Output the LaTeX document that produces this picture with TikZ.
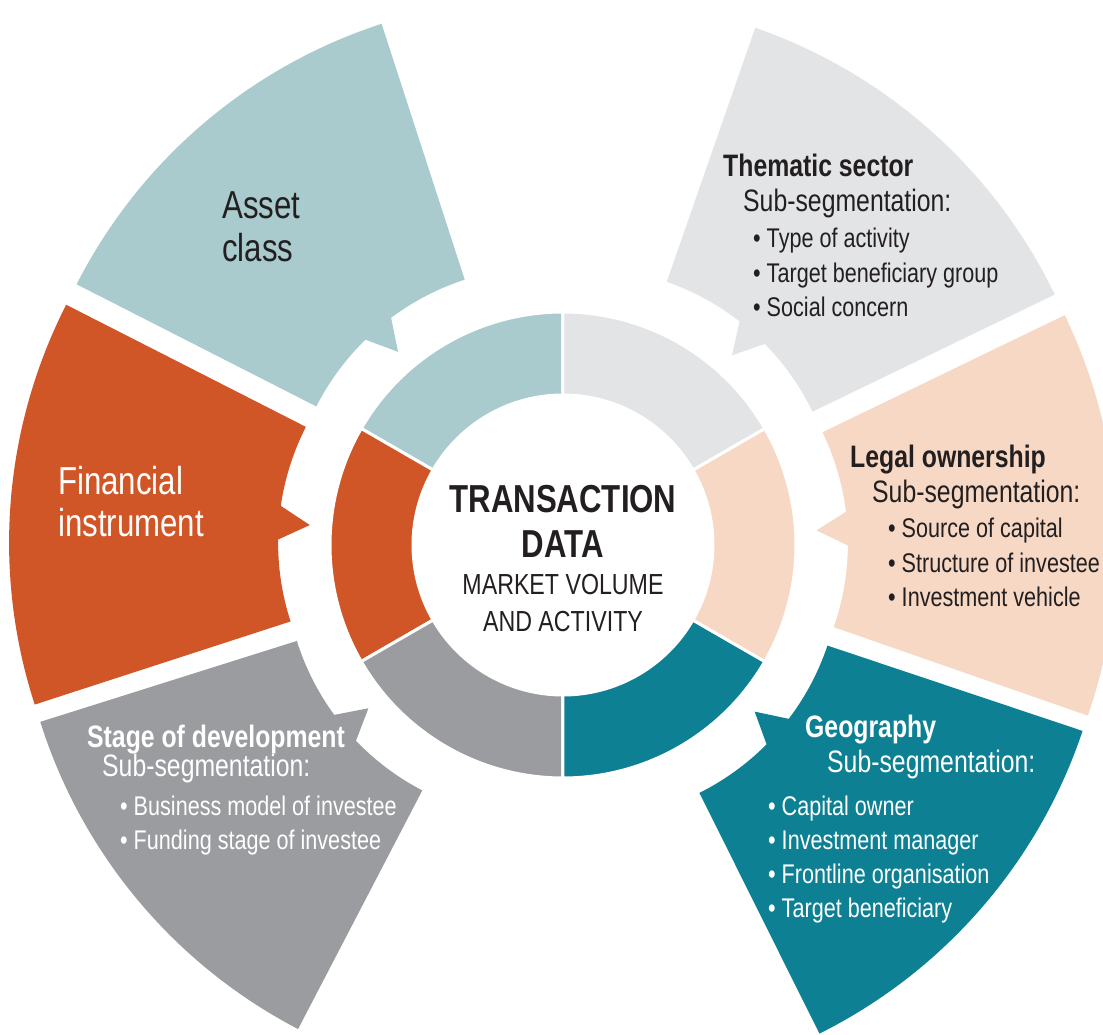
\documentclass[tikz,border=0pt]{standalone}
\usepackage{fontspec}
\setmainfont{Liberation Sans}
\newfontfamily\cnd[FakeStretch=0.8]{Liberation Sans}
\definecolor{assetcol}{HTML}{A9CBCE}
\definecolor{instrcol}{HTML}{D05628}
\definecolor{stagecol}{HTML}{9B9CA0}
\definecolor{geocol}{HTML}{0E8093}
\definecolor{legalcol}{HTML}{F6D8C4}
\definecolor{themecol}{HTML}{E3E4E6}
\definecolor{ink}{HTML}{231F20}
\tikzset{
seg/.style={draw=white, line width=3pt}, petalname/.style={font={\cnd\fontsize{39}{44}\selectfont}, anchor=base west, inner sep=0},
hubbold/.style={font={\cnd\bfseries\fontsize{39}{44}\selectfont}, anchor=base, inner sep=0, text=ink}, hubsub/.style={font={\cnd\fontsize{29}{34}\selectfont}, anchor=base, inner sep=0, text=ink},
blocktitle/.style={font={\cnd\bfseries\fontsize{31}{36}\selectfont}, anchor=base west, inner sep=0}, subseg/.style={font={\cnd\fontsize{31}{36}\selectfont}, anchor=base west, inner sep=0},
item/.style={font={\cnd\fontsize{27}{32}\selectfont}, anchor=base west, inner sep=0}}

\begin{document}
\begin{tikzpicture}[x=1pt, y=1pt]
\useasboundingbox (-563,-490) rectangle (540,545);
\clip (-563,-490) rectangle (540,545);
\fill[white] (-563,-490) rectangle (540,545);
% outer petals
\foreach \ang/\col in {130.5/assetcol, 175.5/instrcol, 220/stagecol, -41/geocol, 3.3/legalcol, 48.3/themecol}{
  \begin{scope}[shift={(\ang:30)}]
    \fill[\col] (\ang-22.5:255) arc[start angle=\ang-22.5, end angle=\ang-3.8, radius=255]
      -- (\ang:224) -- (\ang+3.8:255) arc[start angle=\ang+3.8, end angle=\ang+22.5, radius=255]
      -- (\ang+22.5:524) arc[start angle=\ang+22.5, end angle=\ang-22.5, radius=524] -- cycle;
  \end{scope}
}
% inner ring
\foreach \s/\col in {90/assetcol, 150/instrcol, 210/stagecol, 270/geocol, 330/legalcol, 30/themecol}{
  \filldraw[seg, fill=\col] (\s:150) arc[start angle=\s, end angle=\s+60, radius=150]
    -- (\s+60:233) arc[start angle=\s+60, end angle=\s, radius=233] -- cycle;
}
\node[hubbold] (hub-1) at (0,32) {TRANSACTION};
\node[hubbold] (hub-2) at (0,-13) {DATA};
\node[hubsub] (hub-3) at (0,-50) {MARKET VOLUME};
\node[hubsub] (hub-4) at (0,-87) {AND ACTIVITY};

\node[petalname, text=ink] (asset-1) at (-341,326) {Asset};
\node[petalname, text=ink] (asset-2) at (-341,283) {class};
\node[petalname, text=white] (instr-1) at (-505,50) {Financial};
\node[petalname, text=white] (instr-2) at (-505,8) {instrument};

\node[blocktitle, text=ink] (theme-t) at (160,368) {Thematic sector};
\node[subseg, text=ink] (theme-s) at (180,333) {Sub-segmentation:};
\foreach \txt [count=\i, evaluate={\y=297-34.5*(\i-1);}] in {Type of activity, Target beneficiary group, Social concern}
  \node[item, text=ink] (theme-\i) at (190,\y) {\textbullet\ \txt};

\node[blocktitle, text=ink] (legal-t) at (287,77) {Legal ownership};
\node[subseg, text=ink] (legal-s) at (309,42) {Sub-segmentation:};
\foreach \txt [count=\i, evaluate={\y=7-34.5*(\i-1);}] in {Source of capital, Structure of investee, Investment vehicle}
  \node[item, text=ink] (legal-\i) at (325,\y) {\textbullet\ \txt};

\node[blocktitle, text=white] (geo-t) at (242,-193) {Geography};
\node[subseg, text=white] (geo-s) at (264,-228) {Sub-segmentation:};
\foreach \txt [count=\i, evaluate={\y=-270-34*(\i-1);}] in {Capital owner, Investment manager, Frontline organisation, Target beneficiary}
  \node[item, text=white] (geo-\i) at (205,\y) {\textbullet\ \txt};

\node[blocktitle, text=white] (stage-t) at (-476,-203) {Stage of development};
\node[subseg, text=white] (stage-s) at (-461,-232) {Sub-segmentation:};
\foreach \txt [count=\i, evaluate={\y=-270-35*(\i-1);}] in {Business model of investee, Funding stage of investee}
  \node[item, text=white] (stage-\i) at (-443,\y) {\textbullet\ \txt};
\end{tikzpicture}
\end{document}
